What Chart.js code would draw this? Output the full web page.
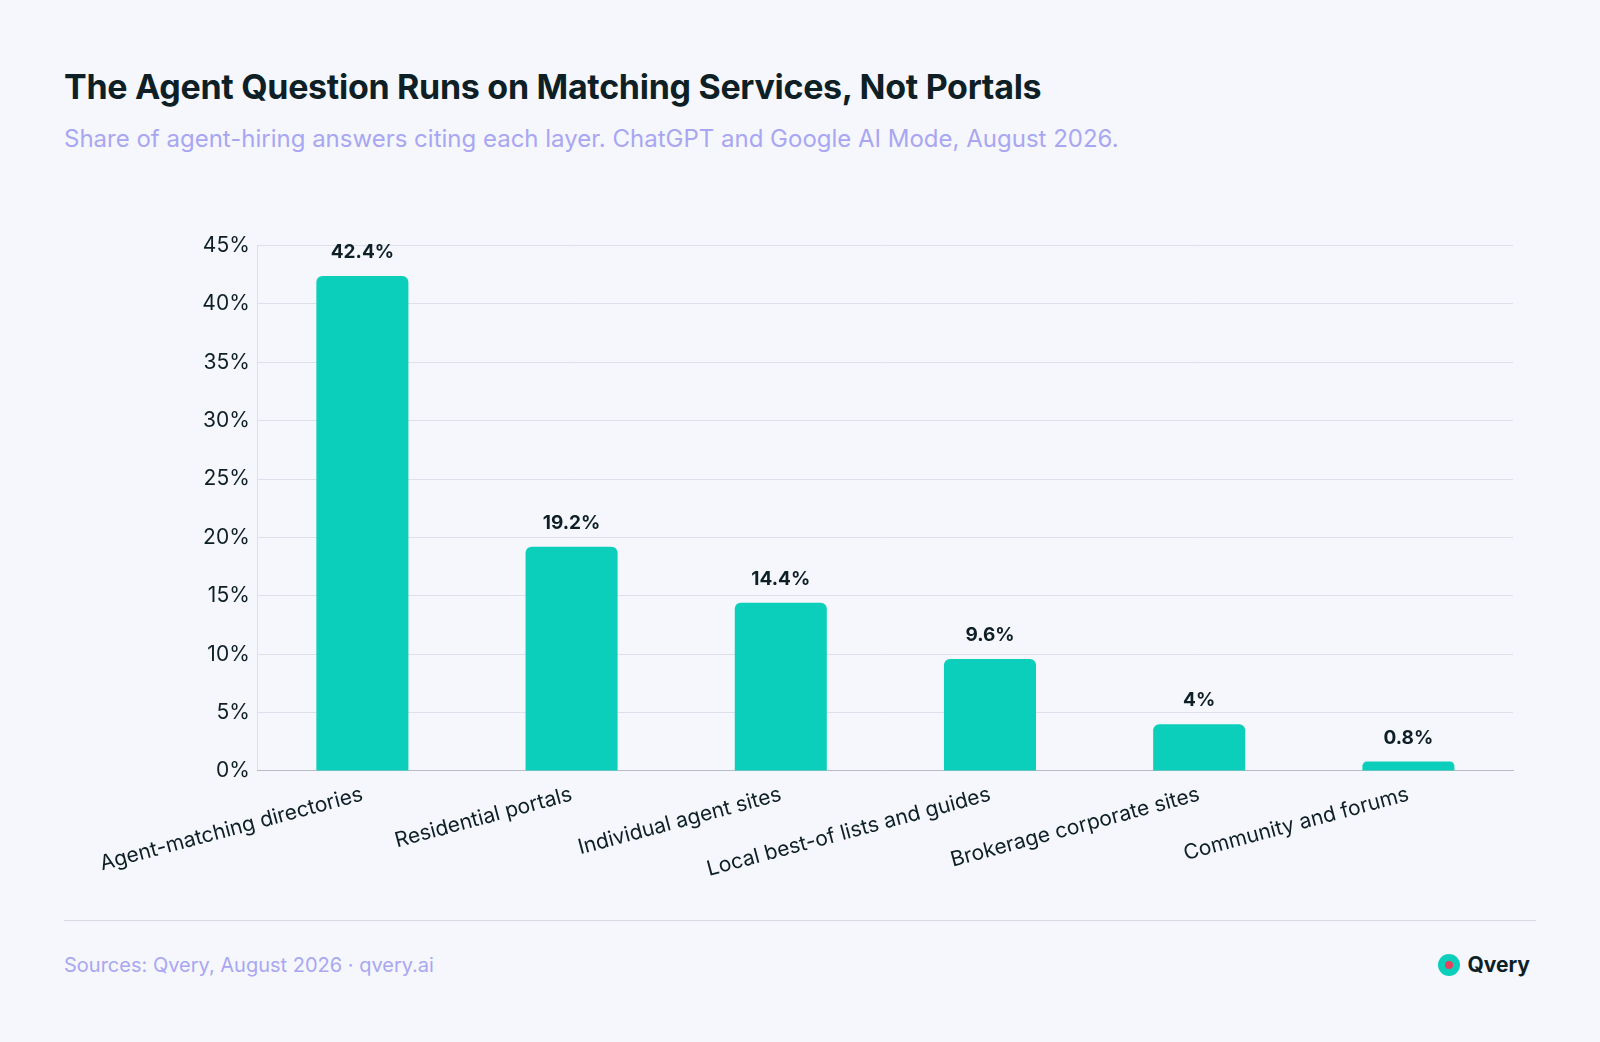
<!DOCTYPE html>
<html>
<head>
<meta charset="utf-8">
<script src="https://cdn.jsdelivr.net/npm/chart.js@4"></script>
<style>
  body { margin: 0; background: #f5f7fd; font-family: Inter, "Noto Sans", sans-serif; }
  .wrap { position: relative; width: 1600px; height: 1042px; }
  h1 { position: absolute; left: 64px; top: 66px; margin: 0; font-size: 34px; font-weight: 700; color: #0e1f26; letter-spacing: -0.3px; }
  .sub { position: absolute; left: 64px; top: 124px; font-size: 24px; color: #a9a6f2; }
  .chart { position: absolute; left: 92px; top: 225px; width: 1448px; height: 660px; }
  .rule { position: absolute; left: 64px; right: 64px; top: 920px; border-top: 1px solid #d8dbe4; }
  .src { position: absolute; left: 64px; top: 953px; font-size: 20px; color: #a9a6f2; }
  .logo { position: absolute; right: 70px; top: 952px; font-size: 21px; font-weight: 700; color: #0e1f26; display: flex; align-items: center; gap: 7px; }
  .dot { width: 22px; height: 22px; border-radius: 50%; background: #0ccfbb; position: relative; }
  .dot::after { content: ""; position: absolute; left: 7px; top: 7px; width: 8px; height: 8px; border-radius: 50%; background: #e8405a; }
</style>
</head>
<body>
<div class="wrap">
  <h1>The Agent Question Runs on Matching Services, Not Portals</h1>
  <div class="sub">Share of agent-hiring answers citing each layer. ChatGPT and Google AI Mode, August 2026.</div>
  <div class="chart"><canvas id="c"></canvas></div>
  <div class="rule"></div>
  <div class="src">Sources: Qvery, August 2026 · qvery.ai</div>
  <div class="logo"><span class="dot"></span>Qvery</div>
</div>
<script>
const categories = ["Agent-matching directories", "Residential portals", "Individual agent sites", "Local best-of lists and guides", "Brokerage corporate sites", "Community and forums"];
const shares = [42.4, 19.2, 14.4, 9.6, 4, 0.8];

const valueLabels = {
  id: "valueLabels",
  afterDatasetsDraw(chart) {
    const ctx = chart.ctx;
    ctx.save();
    ctx.font = "700 19px Inter, sans-serif";
    ctx.fillStyle = "#0e1f26";
    ctx.textAlign = "center";
    ctx.textBaseline = "bottom";
    chart.getDatasetMeta(0).data.forEach((bar, i) => {
      ctx.fillText(shares[i] + "%", bar.x, bar.y - 14);
    });
    ctx.restore();
  }
};

new Chart(document.getElementById("c"), {
  type: "bar",
  data: {
    labels: categories,
    datasets: [{
      data: shares,
      backgroundColor: "#0ccfbb",
      borderRadius: { topLeft: 6, topRight: 6 },
      borderSkipped: "bottom",
      categoryPercentage: 0.88,
      barPercentage: 0.5
    }]
  },
  options: {
    responsive: true,
    maintainAspectRatio: false,
    animation: false,
    layout: { padding: { top: 10, left: 0, right: 27 } },
    plugins: { legend: { display: false }, tooltip: { enabled: false } },
    scales: {
      y: {
        min: 0, max: 45,
        ticks: { stepSize: 5, callback: v => v + "%", color: "#0e1f26", font: { size: 21, family: "Inter" }, padding: 8 },
        grid: { color: "#dde0ea", drawTicks: false },
        border: { display: true, color: "#dde0ea" }
      },
      x: {
        ticks: { color: "#0e1f26", font: { size: 21, family: "Inter" }, maxRotation: 15, minRotation: 15, autoSkip: false },
        grid: { display: false },
        border: { color: "#b8bcc8" }
      }
    }
  },
  plugins: [valueLabels]
});
</script>
</body>
</html>
